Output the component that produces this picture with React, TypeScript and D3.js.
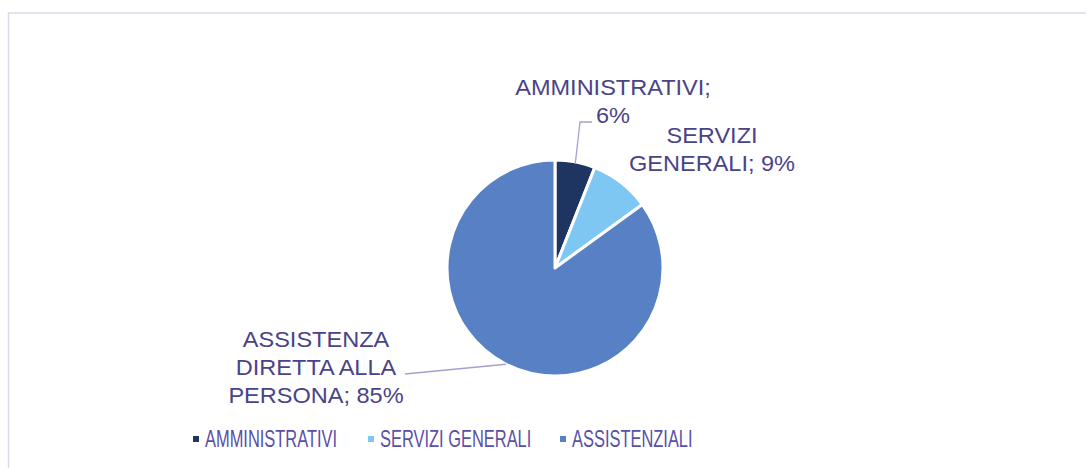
import React from "react";
import * as d3 from "d3";

const categories = ["AMMINISTRATIVI", "SERVIZI GENERALI", "ASSISTENZIALI"];
const values = [6, 9, 85];
const labelLines = [
  ["AMMINISTRATIVI;", "6%"],
  ["SERVIZI", "GENERALI; 9%"],
  ["ASSISTENZA", "DIRETTA ALLA", "PERSONA; 85%"],
];
const colors = ["#1D3560", "#7EC7F3", "#5880C4"];

const W = 1087;
const H = 468;
const cx = 555;
const cy = 268;
const R = 108;

// label anchor (center x, first baseline) per slice
const labelPos: [number, number][] = [
  [613, 95],
  [712, 143],
  [316, 347],
];
const lineH = 28;
const labelStretch = 1.07;
const legendStretch = 0.7;
const legendX = [193, 368, 560];
const legendY = 447;

export default function App() {
  const pie = d3.pie<number>().value((d) => d).sort(null);
  const arcs = pie(values);
  const arc = d3.arc<d3.PieArcDatum<number>>().innerRadius(0).outerRadius(R);
  const outer = d3.arc<d3.PieArcDatum<number>>().innerRadius(R).outerRadius(R);

  // leader lines
  const p0 = outer.centroid(arcs[0]);
  const p2 = outer.centroid(arcs[2]);
  const lead0 = `M${cx + p0[0]},${cy + p0[1] + 2} L${cx + 25},${122} L${cx + 37},${122}`;
  const lead2 = `M${cx + p2[0]},${cy + p2[1]} L${405},${374}`;

  const font = "'Liberation Sans', Arial, sans-serif";
  return (
    <svg
      width={W}
      height={H}
      style={{ position: "absolute", left: 0, top: 0, background: "#fff" }}
      fontFamily={font}
    >
      <line x1={8} y1={13} x2={1086} y2={13} stroke="#DCD8EA" strokeWidth={1.5} />
      <line x1={8.5} y1={13} x2={8.5} y2={H} stroke="#DCD8EA" strokeWidth={1.5} />
      <g transform={`translate(${cx},${cy})`}>
        {arcs.map((a, i) => (
          <path key={i} d={arc(a) || ""} fill={colors[i]} stroke="#fff" strokeWidth={3} strokeLinejoin="round" />
        ))}
      </g>
      <path d={lead0} fill="none" stroke="#A89FD0" strokeWidth={1.3} />
      <path d={lead2} fill="none" stroke="#A89FD0" strokeWidth={1.3} />
      {labelLines.map((lines, i) =>
        lines.map((t, j) => (
          <text
            key={`${i}-${j}`}
            transform={`translate(${labelPos[i][0]},${labelPos[i][1] + j * lineH}) scale(${labelStretch},1)`}
            textAnchor="middle"
            fontSize={22}
            fill="#4A4388"
          >
            {t}
          </text>
        ))
      )}
      {categories.map((c, i) => (
        <g key={c}>
          <rect x={legendX[i]} y={436} width={6} height={6} fill={colors[i]} />
          <text
            transform={`translate(${legendX[i] + 12},${legendY}) scale(${legendStretch},1)`}
            fontSize={23.5}
            fill="#5A4FA8"
          >
            {c}
          </text>
        </g>
      ))}
    </svg>
  );
}
